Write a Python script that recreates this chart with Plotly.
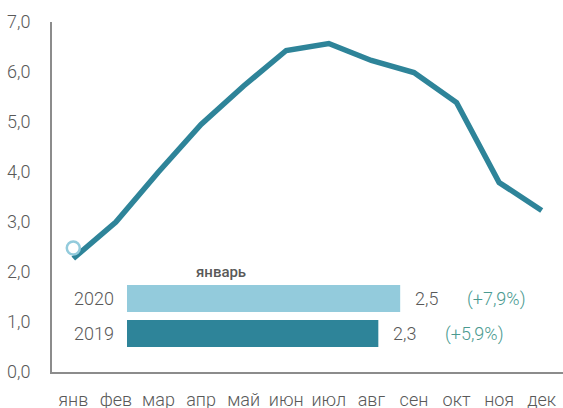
import plotly.graph_objects as go

months = ["янв", "фев", "мар", "апр", "май", "июн", "июл", "авг", "сен", "окт", "ноя", "дек"]
line_values = [2.27, 3.0, 4.0, 4.95, 5.72, 6.43, 6.57, 6.23, 5.99, 5.39, 3.79, 3.23]
marker_month = ["янв"]
marker_value = [2.48]

bar_years = ["2019", "2020"]
bar_values = [2.3, 2.5]
bar_labels = ["2,3", "2,5"]
bar_changes = ["(+5,9%)", "(+7,9%)"]
bar_title = "январь"
y_ticks = [0, 1, 2, 3, 4, 5, 6, 7]
y_ticktext = ["0,0", "1,0", "2,0", "3,0", "4,0", "5,0", "6,0", "7,0"]

DARK = "#2E8499"
LIGHT = "#93CBDC"
GRAY = "#595959"
TEAL = "#4A9A90"
FONT = "Roboto Light, Roboto"

fig = go.Figure()
fig.add_trace(go.Scatter(x=months, y=line_values, mode="lines",
                         line=dict(color=DARK, width=5.5), hoverinfo="skip",
                         xaxis="x", yaxis="y"))
fig.add_trace(go.Scatter(x=marker_month, y=marker_value, mode="markers",
                         marker=dict(size=13, color="white", line=dict(color=LIGHT, width=2.5)),
                         xaxis="x", yaxis="y"))
fig.add_trace(go.Bar(y=bar_years, x=bar_values, orientation="h",
                     marker=dict(color=[DARK, LIGHT], line=dict(width=0)),
                     width=0.77, xaxis="x2", yaxis="y2"))

annotations = []
for i, (v, lab, ch) in enumerate(zip(bar_values, bar_labels, bar_changes)):
    annotations.append(dict(x=v, y=i, xref="x2", yref="y2", text=lab, showarrow=False,
                            xanchor="left", xshift=13,
                            font=dict(family=FONT, size=18, color=GRAY, weight=300)))
    annotations.append(dict(x=v, y=i, xref="x2", yref="y2", text=ch, showarrow=False,
                            xanchor="left", xshift=65,
                            font=dict(family=FONT, size=18, color=TEAL, weight=300)))
annotations.append(dict(x=(221 - 52) / 511, y=(372 - 272) / 350, xref="paper", yref="paper",
                        text=bar_title, showarrow=False, xanchor="center", yanchor="middle",
                        font=dict(family="Roboto", size=15, color=GRAY, weight=500)))

fig.update_layout(
    width=563, height=408,
    margin=dict(l=52, r=0, t=22, b=36),
    paper_bgcolor="white", plot_bgcolor="white",
    showlegend=False,
    font=dict(family=FONT, size=18, color=GRAY, weight=300),
    xaxis=dict(type="category", categoryorder="array", categoryarray=months,
               range=[-0.5, 11.5], showgrid=False, zeroline=False, automargin=False,
               showline=True, linecolor="#8C8C8C", linewidth=2, ticks="",
               ticklabelstandoff=10, tickfont=dict(size=18)),
    yaxis=dict(range=[0, 7], tickvals=y_ticks, ticktext=y_ticktext, automargin=False,
               showgrid=False, zeroline=False, showline=True, linecolor="#8C8C8C",
               linewidth=2, ticks="", ticklabelstandoff=16, tickfont=dict(size=18)),
    xaxis2=dict(domain=[(127 - 52) / 511, 1], range=[0, 3.99], anchor="y2",
                visible=False),
    yaxis2=dict(domain=[(372 - 351) / 350, (372 - 281) / 350], anchor="x2",
                type="category", categoryorder="array", categoryarray=bar_years,
                range=[-0.5, 1.5], showgrid=False, zeroline=False, showline=False,
                automargin=False,
                ticks="", ticklabelstandoff=12, tickfont=dict(size=18)),
    annotations=annotations,
)

fig.write_html("out.html", config={"displayModeBar": False},
               post_script="document.body.style.margin='0';document.body.style.padding='0';document.body.style.overflow='hidden';")
